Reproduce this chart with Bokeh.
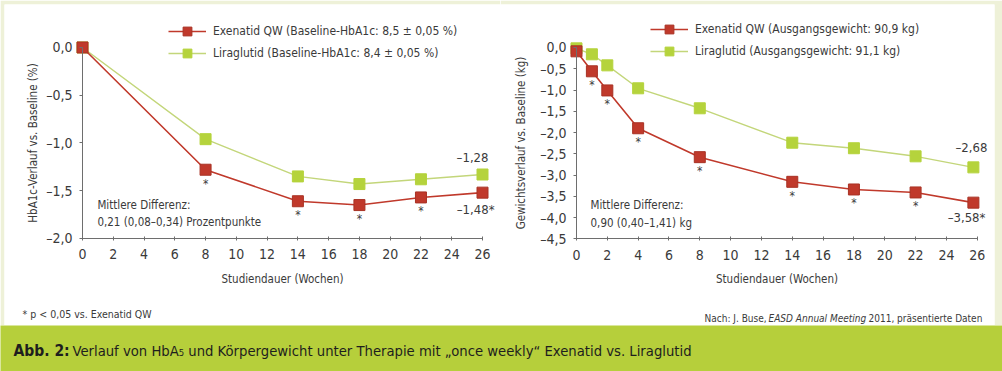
from bokeh.plotting import figure
from bokeh.models import (Range1d, FixedTicker, CustomJSTickFormatter, Legend, LegendItem,
                          Label, ColumnDataSource)
from bokeh.layouts import column, row
from bokeh.embed import file_html
from bokeh.resources import INLINE
from bokeh.core.properties import value

# ---------------- data ----------------
weeks_hba = [0, 8, 14, 18, 22, 26]
hba_exenatid = [0.0, -1.28, -1.61, -1.65, -1.57, -1.52]
hba_liraglutid = [0.0, -0.96, -1.35, -1.43, -1.38, -1.33]
hba_sig_weeks = [8, 14, 18, 22]

weeks_wt = [0, 1, 2, 4, 8, 14, 18, 22, 25.75]
wt_exenatid = [-0.09, -0.56, -1.01, -1.90, -2.58, -3.16, -3.34, -3.41, -3.65]
wt_liraglutid = [-0.02, -0.16, -0.42, -0.96, -1.43, -2.24, -2.37, -2.56, -2.82]
wt_sig_weeks = [1, 2, 4, 8, 14, 18, 22]

x_ticks = [0, 2, 4, 6, 8, 10, 12, 14, 16, 18, 20, 22, 24, 26]
hba_ticks = [0.0, -0.5, -1.0, -1.5, -2.0]
wt_ticks = [0.0, -0.5, -1.0, -1.5, -2.0, -2.5, -3.0, -3.5, -4.0, -4.5]

hba_end_labels = ["\u20131,28", "\u20131,48*"]
wt_end_labels = ["\u20132,68", "\u20133,58*"]

legend_hba = ["Exenatid QW (Baseline-HbA1c: 8,5 \u00b1 0,05 %)",
              "Liraglutid (Baseline-HbA1c: 8,4 \u00b1 0,05 %)"]
legend_wt = ["Exenatid QW (Ausgangsgewicht: 90,9 kg)",
             "Liraglutid (Ausgangsgewicht: 91,1 kg)"]

# ---------------- style ----------------
FONT = "DejaVu Sans Condensed"
TXT = "#3a3a3a"
RED = "#c0392b"
GREEN = "#b5d33c"
GREEN_LINE = "#c3d67a"
AXIS = "#6e6e6e"
BAND = "#b6cf3b"
FRAME = "#eef1d8"

fmt = CustomJSTickFormatter(code="return tick.toFixed(1).replace('.', ',').replace('-', '\\u2013');")


def make_panel(width, height, xr, yr, ybounds, yticks, ylabel, bl, br, ylab_standoff):
    p = figure(width=width, height=height, output_backend="svg", toolbar_location=None,
               x_range=Range1d(*xr), y_range=Range1d(*yr),
               min_border_left=bl, min_border_right=br, min_border_top=4,
               min_border_bottom=0)
    p.outline_line_color = None
    p.background_fill_color = "white"
    p.border_fill_color = FRAME
    p.grid.visible = False
    for ax in (p.xaxis[0], p.yaxis[0]):
        ax.axis_line_color = AXIS
        ax.major_tick_line_color = AXIS
        ax.minor_tick_line_color = None
        ax.major_label_text_font = FONT
        ax.major_label_text_font_size = "14px"
        ax.major_label_text_color = TXT
        ax.axis_label_text_font = FONT
        ax.axis_label_text_font_size = "11.5px"
        ax.axis_label_text_font_style = "normal"
        ax.axis_label_text_color = TXT
    xa = p.xaxis[0]
    xa.fixed_location = ybounds[0]
    xa.bounds = (0, 26)
    xa.ticker = FixedTicker(ticks=x_ticks)
    xa.major_tick_in = 2
    xa.major_tick_out = 2
    xa.major_label_standoff = 9
    xa.axis_label = "Studiendauer (Wochen)"
    xa.axis_label_standoff = 9
    ya = p.yaxis[0]
    ya.fixed_location = 0
    ya.bounds = ybounds
    ya.ticker = FixedTicker(ticks=yticks)
    ya.formatter = fmt
    ya.major_tick_in = 0
    ya.major_tick_out = 3
    ya.major_label_standoff = 7
    ya.axis_label = ylabel
    ya.axis_label_standoff = ylab_standoff
    return p


def add_series(p, weeks, exe, lira, sig_weeks, end_labels, legend_texts, end_offsets, legend_loc):
    src_e = ColumnDataSource(dict(x=weeks, y=exe))
    src_l = ColumnDataSource(dict(x=weeks, y=lira))
    ll = p.line("x", "y", source=src_l, line_color=GREEN_LINE, line_width=1.4)
    ls = p.scatter("x", "y", source=src_l, marker="square", size=11, fill_color=GREEN,
                   line_color=GREEN)
    el = p.line("x", "y", source=src_e, line_color=RED, line_width=1.6)
    es = p.scatter("x", "y", source=src_e, marker="square", size=11, fill_color=RED,
                   line_color="#a83224")
    sig_y = [exe[weeks.index(w)] for w in sig_weeks]
    p.text(x=sig_weeks, y=sig_y, text=["*"] * len(sig_weeks), text_align="center",
           text_baseline="top", y_offset=7, text_font=value(FONT), text_font_size="12px",
           text_color=TXT)
    p.text(x=[weeks[-1]], y=[lira[-1]], text=[end_labels[0]], text_align="right",
           text_baseline="middle", x_offset=end_offsets[0][0], y_offset=end_offsets[0][1],
           text_font=value(FONT), text_font_size="13px", text_color=TXT)
    p.text(x=[weeks[-1]], y=[exe[-1]], text=[end_labels[1]], text_align="right",
           text_baseline="middle", x_offset=end_offsets[1][0], y_offset=end_offsets[1][1],
           text_font=value(FONT), text_font_size="13px", text_color=TXT)
    leg = Legend(items=[LegendItem(label=legend_texts[0], renderers=[el, es]),
                        LegendItem(label=legend_texts[1], renderers=[ll, ls])],
                 location=legend_loc, orientation="vertical", padding=0, margin=0,
                 spacing=0, glyph_width=38, glyph_height=22, label_height=22,
                 label_standoff=7, border_line_color=None, background_fill_alpha=0,
                 label_text_font=FONT, label_text_font_size="12px", label_text_color=TXT)
    p.add_layout(leg, "center")


H = 325
left = make_panel(500, H, (-5.07, 27.17), (-2.911, 0.450), (-2.0, 0.0), hba_ticks,
                  "HbA1c-Verlauf vs. Baseline (%)", 4, 0, 3)
add_series(left, weeks_hba, hba_exenatid, hba_liraglutid, hba_sig_weeks, hba_end_labels,
           legend_hba, [(6, -17), (12, 17)], (164, 261))
left.add_layout(Label(x=0.97, y=-1.654, text="Mittlere Differenz:", text_font=FONT,
                      text_font_size="11.5px", text_color=TXT, text_baseline="middle"))
left.add_layout(Label(x=0.97, y=-1.832, text="0,21 (0,08\u20130,34) Prozentpunkte",
                      text_font=FONT, text_font_size="11.5px", text_color=TXT,
                      text_baseline="middle"))
left.add_layout(Label(x=18, y=12, x_units="screen", y_units="screen",
                      text="* p < 0,05 vs. Exenatid QW", text_font=FONT,
                      text_font_size="10.5px", text_color=TXT, text_baseline="middle"))

right = make_panel(502, H, (-4.93, 27.12), (-6.540, 1.0115), (-4.5, 0.0), wt_ticks,
                   "Gewichtsverlauf vs. Baseline (kg)", 0, 8, 9)
add_series(right, weeks_wt, wt_exenatid, wt_liraglutid, wt_sig_weeks, wt_end_labels,
           legend_wt, [(14, -20), (12, 15)], (150, 263))
right.add_layout(Label(x=0.91, y=-3.717, text="Mittlere Differenz:", text_font=FONT,
                       text_font_size="11.5px", text_color=TXT, text_baseline="middle"))
right.add_layout(Label(x=0.91, y=-4.117, text="0,90 (0,40\u20131,41) kg", text_font=FONT,
                       text_font_size="11.5px", text_color=TXT, text_baseline="middle"))
for xs, t, st in [(204, "Nach: J. Buse,", "normal"), (268, "EASD Annual Meeting", "italic"),
                  (368, "2011, pr\u00e4sentierte Daten", "normal")]:
    right.add_layout(Label(x=xs, y=7, x_units="screen", y_units="screen", text=t,
                           text_font=FONT, text_font_size="10px", text_font_style=st,
                           text_color=TXT, text_baseline="middle"))

cap = figure(width=1002, height=46, output_backend="svg", toolbar_location=None,
             x_range=Range1d(0, 1002), y_range=Range1d(0, 46), min_border=0)
cap.outline_line_color = None
cap.background_fill_color = BAND
cap.border_fill_color = BAND
cap.axis.visible = False
cap.grid.visible = False
cap.add_layout(Label(x=13, y=21, text="Abb. 2:", text_font=FONT, text_font_size="15.5px",
                     text_font_style="bold", text_color="#1e1e1e", text_baseline="middle"))
cap.add_layout(Label(x=72, y=21,
                     text="Verlauf von HbA\u2085 und K\u00f6rpergewicht unter Therapie mit \u201eonce weekly\u201c Exenatid vs. Liraglutid",
                     text_font=FONT, text_font_size="14.7px", text_color="#1e1e1e",
                     text_baseline="middle"))

layout = column(row(left, right), cap)
open("out.html", "w").write(file_html(layout, INLINE))
